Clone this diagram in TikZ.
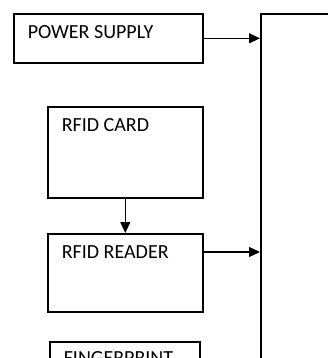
\documentclass[tikz,border=0pt]{standalone}
\usepackage{fontspec}
\setmainfont{Carlito}
\usepackage{tikz}
\usetikzlibrary{arrows.meta,positioning}

\begin{document}
\begin{tikzpicture}[x=1pt,y=-1pt,font=\fontsize{20}{24}\selectfont]
    \clip (0,0) rectangle (328,358);
    %Blocks
     \begin{scope}[every node/.style={rectangle,draw,line width=1.6pt,anchor=north west,inner sep=0pt},
       every label/.style={draw=none,anchor=north west,inner sep=0pt,xshift=14pt,yshift=-12pt}]
       \node[minimum width=189pt, minimum height=49pt, label={north west:POWER SUPPLY}] (supply) at (13,13) {};
       \node[minimum width=155pt, minimum height=91pt, label={north west:RFID CARD}] (card) at (47,106) {};
       \node[minimum width=155pt, minimum height=78pt, label={north west:RFID READER}] (reader) at (47,233) {};
       \node[minimum width=150pt, minimum height=60pt, label={[yshift=2pt]north west:FINGERPRINT}] (finger) at (49,341) {};
       \node[minimum width=100pt, minimum height=400pt] (ctrl) at (260,13) {};
    \end{scope}

    %Links
     \coordinate (rdout) at ([yshift=-19pt]reader.north east);
    \begin{scope}[every edge/.style={draw,line width=1.2pt,-{Triangle[length=11pt,width=10pt]}}]
      \path (supply.east) edge (supply.east -| ctrl.west);
      \path (card.south) edge (reader.north);
      \path (rdout) edge (rdout -| ctrl.west);
    \end{scope}
  \end{tikzpicture}
\end{document}
